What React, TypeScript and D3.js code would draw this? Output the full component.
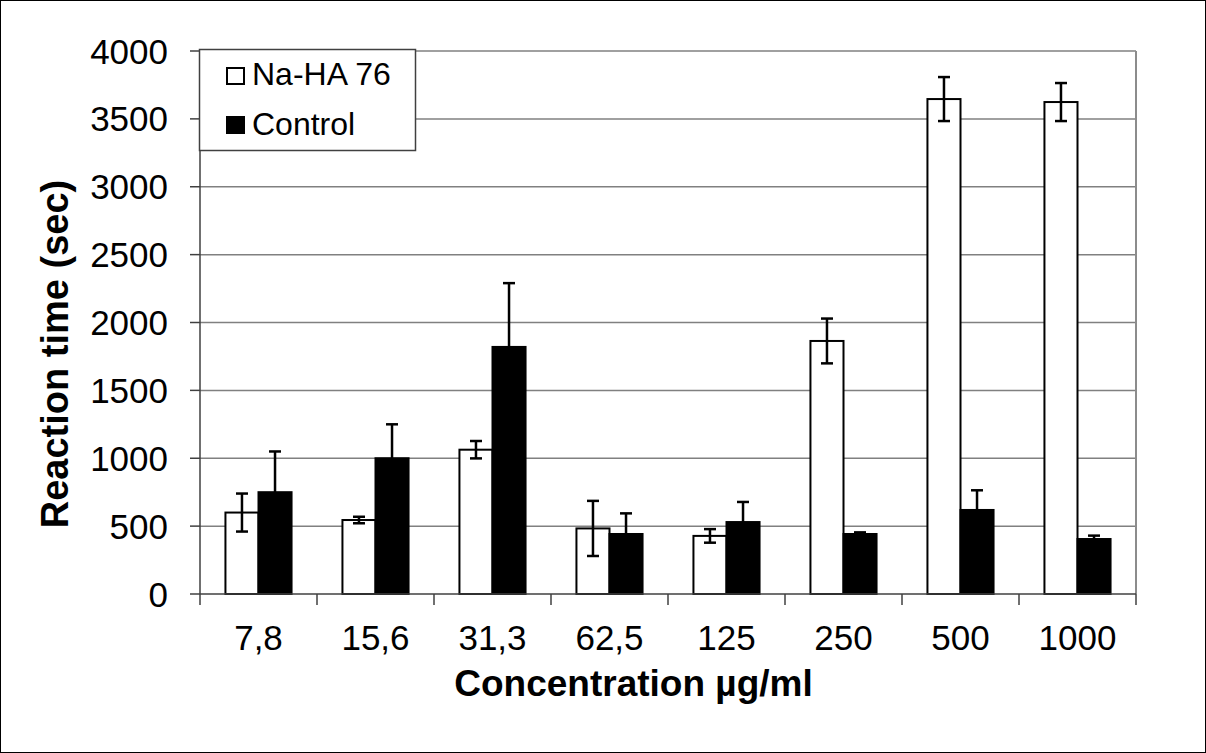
import React from "react";
import * as d3 from "d3";

const categories = ["7,8", "15,6", "31,3", "62,5", "125", "250", "500", "1000"];
const naValues = [600, 545, 1063, 483, 428, 1864, 3646, 3624];
const naErrors = [140, 24, 64, 203, 50, 165, 162, 140];
const ctrlValues = [750, 1000, 1820, 442, 530, 442, 619, 405];
const ctrlErrors = [300, 250, 470, 152, 148, 12, 145, 25];
const yTicks = [0, 500, 1000, 1500, 2000, 2500, 3000, 3500, 4000];
const seriesNames = ["Na-HA 76", "Control"];

const W = 1206;
const H = 753;
const plot = { left: 200, right: 1136, top: 51, bottom: 594 };
const FONT = "'Liberation Sans', Arial, sans-serif";

export default function App() {
  const x = d3.scaleBand<string>().domain(categories).range([plot.left, plot.right]).paddingInner(0).paddingOuter(0);
  const inner = d3.scaleBand<string>().domain(seriesNames).range([0, x.bandwidth()]).paddingInner(0).paddingOuter(0.77);
  const y = d3.scaleLinear().domain([0, 4000]).range([plot.bottom, plot.top]);

  const series = [
    { name: seriesNames[0], values: naValues, errors: naErrors, fill: "#ffffff" },
    { name: seriesNames[1], values: ctrlValues, errors: ctrlErrors, fill: "#000000" },
  ];
  const cap = 6;

  return (
    <>
      <style>{"body{margin:0;}"}</style>
      <svg width={W} height={H} style={{ display: "block" }} fontFamily={FONT}>
        <rect x={0} y={0} width={W} height={H} fill="#fff" />
        <rect x={0.5} y={0.5} width={W - 1} height={H - 1} fill="none" stroke="#000" strokeWidth={1} />
        {/* gridlines */}
        {yTicks.filter((t) => t > 0).map((t) => (
          <line key={t} x1={plot.left} x2={plot.right} y1={y(t)} y2={y(t)} stroke="#808080" strokeWidth={1.5} />
        ))}
        {/* right border */}
        <line x1={plot.right} x2={plot.right} y1={plot.top} y2={plot.bottom} stroke="#8c8c8c" strokeWidth={2} />
        {/* y axis */}
        <line x1={plot.left} x2={plot.left} y1={plot.top} y2={plot.bottom} stroke="#404040" strokeWidth={1.5} />
        {yTicks.map((t) => (
          <g key={t}>
            <line x1={plot.left - 10} x2={plot.left} y1={y(t)} y2={y(t)} stroke="#404040" strokeWidth={1.5} />
            <text x={168} y={y(t) + 12.5} textAnchor="end" fontSize={35} fill="#000">{t}</text>
          </g>
        ))}
        {/* bars */}
        {categories.map((c, i) => (
          <g key={c}>
            {series.map((s) => {
              const bx = (x(c) as number) + (inner(s.name) as number);
              const bw = inner.bandwidth();
              const top = y(s.values[i]);
              return (
                <rect key={s.name} x={bx} y={top} width={bw} height={plot.bottom - top} fill={s.fill} stroke="#000" strokeWidth={2} />
              );
            })}
          </g>
        ))}
        {/* x axis */}
        <line x1={plot.left} x2={plot.right} y1={plot.bottom} y2={plot.bottom} stroke="#404040" strokeWidth={1.5} />
        {[...categories.map((c) => x(c) as number), plot.right].map((px, i) => (
          <line key={i} x1={px} x2={px} y1={plot.bottom} y2={plot.bottom + 11} stroke="#404040" strokeWidth={1.5} />
        ))}
        {categories.map((c) => (
          <text key={c} x={(x(c) as number) + x.bandwidth() / 2} y={650} textAnchor="middle" fontSize={35} fill="#000">{c}</text>
        ))}
        {/* error bars */}
        {categories.map((c, i) => (
          <g key={c}>
            {series.map((s) => {
              const cx = (x(c) as number) + (inner(s.name) as number) + inner.bandwidth() / 2;
              const hi = y(s.values[i] + s.errors[i]);
              const lo = y(s.values[i] - s.errors[i]);
              return (
                <g key={s.name} stroke="#000" strokeWidth={2.5}>
                  <line x1={cx} x2={cx} y1={hi} y2={lo} />
                  <line x1={cx - cap} x2={cx + cap} y1={hi} y2={hi} />
                  <line x1={cx - cap} x2={cx + cap} y1={lo} y2={lo} />
                </g>
              );
            })}
          </g>
        ))}
        {/* legend */}
        <rect x={199.5} y={49.5} width={216} height={101} fill="#fff" stroke="#404040" strokeWidth={1.5} />
        <rect x={227} y={68} width={17} height={16} fill="#fff" stroke="#000" strokeWidth={2} />
        <text x={252} y={84.5} fontSize={32} fill="#000">{seriesNames[0]}</text>
        <rect x={226} y={116} width={19} height={18} fill="#000" />
        <text x={252} y={135} fontSize={32} fill="#000">{seriesNames[1]}</text>
        {/* axis titles */}
        <text x={633.5} y={696} textAnchor="middle" fontSize={37} fontWeight="bold" fill="#000">Concentration µg/ml</text>
        <text transform="translate(68,354) rotate(-90)" textAnchor="middle" fontSize={38} fontWeight="bold" fill="#000">Reaction time (sec)</text>
      </svg>
    </>
  );
}
